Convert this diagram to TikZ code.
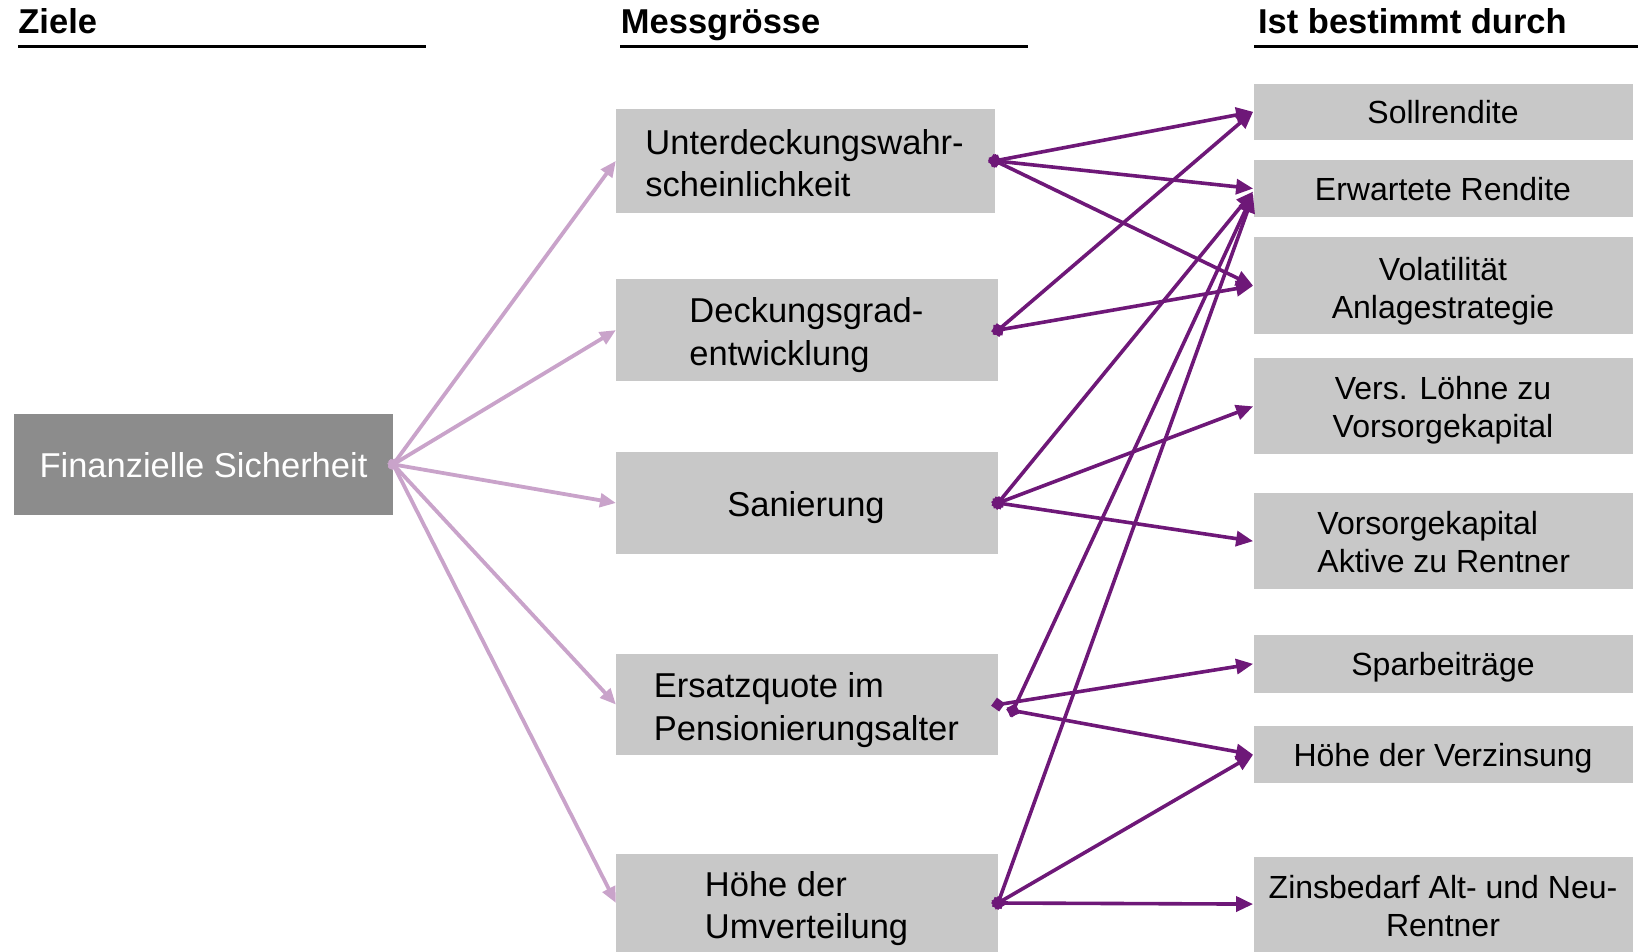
\documentclass[tikz,border=0pt]{standalone}
\usepackage{fontspec}
\setmainfont{Liberation Sans}
\usetikzlibrary{arrows.meta,calc}
\begin{document}
\definecolor{boxgray}{RGB}{200,200,200}
\definecolor{darkbox}{RGB}{140,140,140}
\definecolor{lpurp}{RGB}{201,163,202}
\definecolor{dpurp}{RGB}{110,24,120}
\tikzset{
  box/.style={fill=boxgray, draw=none, inner sep=0pt, minimum width=#1},
  box/.default=189.55pt,
  txt/.style={font=\fontsize{17.25}{21.3}\selectfont, inner sep=0pt, text=black},
  rtxt/.style={font=\fontsize{16}{19}\selectfont, inner sep=0pt, text=black, align=center},
  hdr/.style={font=\fontsize{17.25}{21}\selectfont\bfseries, inner sep=0pt, anchor=base west},
  hline/.style={line width=1.5pt, black},
  lt/.style={draw=lpurp, line width=1.9pt, {Diamond[length=6pt,width=6pt]}-{Triangle[length=8pt,width=6.8pt]}, shorten <=-3pt},
  dk/.style={draw=dpurp, line width=1.8pt, {Diamond[length=7pt,width=7pt]}-{Triangle[length=8.5pt,width=7.5pt]}, shorten <=-3.5pt}
}
\newcommand{\sx}{\strut}
\begin{tikzpicture}[x=0.5pt,y=-0.5pt]
\useasboundingbox (0,0) rectangle (1638,952);
% headers
\node[hdr] (h1) at (18,34) {Ziele};
\node[hdr] (h2) at (620.5,34) {Messgrösse};
\node[hdr] (h3) at (1257.7,34) {Ist bestimmt durch};
\coordinate (l1a) at (18,47); \coordinate (l1b) at (426,47);
\coordinate (l2a) at (620,47); \coordinate (l2b) at (1028,47);
\coordinate (l3a) at (1254,47); \coordinate (l3b) at (1638,47);
\draw[hline] (l1a) -- (l1b);
\draw[hline] (l2a) -- (l2b);
\draw[hline] (l3a) -- (l3b);
% left box
\node[box=189.6pt, fill=darkbox, minimum height=50.65pt] (fs) at (203.2,464.4) {};
\node[txt, text=white] (fst) at (203.5,468.6) {\sx Finanzielle Sicherheit};
% middle boxes
\node[box=189.1pt, minimum height=52.25pt] (u) at (805.4,160.85) {};
\node[box=190.65pt, minimum height=51.2pt] (d) at (807,330.1) {};
\node[box=190.65pt, minimum height=50.65pt] (s) at (807,503) {};
\node[box=190.65pt, minimum height=50.65pt] (e) at (807,704.6) {};
\node[box=190.65pt, minimum height=48.55pt] (h) at (807,903) {};
\node[txt, align=left, anchor=west] (ut) at (645,167) {\sx Unterdeckungswahr-\\\sx scheinlichkeit};
\node[txt, align=left, anchor=west] (dt) at (689,335.5) {\sx Deckungsgrad-\\\sx entwicklung};
\node[txt] (st) at (806,507.5) {\sx Sanierung};
\node[txt, align=left, anchor=west] (et) at (653.5,710.5) {\sx Ersatzquote im\\\sx Pensionierungsalter};
\node[txt, align=left, anchor=west] (ht) at (704.5,909) {\sx Höhe der\\\sx Umverteilung};
% right boxes
\node[box, minimum height=28.2pt] (soll) at (1443.05,111.8) {};
\node[box, minimum height=28.75pt] (erw) at (1443.05,188.55) {};
\node[box, minimum height=48.6pt] (vol) at (1443.05,285.7) {};
\node[box, minimum height=48.05pt] (vers) at (1443.05,406.35) {};
\node[box, minimum height=48.05pt] (vors) at (1443.05,541.15) {};
\node[box, minimum height=28.75pt] (spar) at (1443.05,663.85) {};
\node[box, minimum height=28.7pt] (hv) at (1443.05,754.7) {};
\node[box, minimum height=47.5pt] (zins) at (1443.05,904.1) {};
\node[rtxt] (sollt) at (1443,116) {\sx Sollrendite};
\node[rtxt] (erwt) at (1443,193) {\sx Erwartete Rendite};
\node[rtxt] (volt) at (1443,291.5) {\sx Volatilität\\\sx Anlagestrategie};
\node[rtxt] (verst) at (1443,411) {\sx Vers. Löhne zu\\\sx Vorsorgekapital};
\node[rtxt, align=left, anchor=west] (vorst) at (1317,545.5) {\sx Vorsorgekapital\\\sx Aktive zu Rentner};
\node[rtxt] (spart) at (1443,668) {\sx Sparbeiträge};
\node[rtxt] (hvt) at (1443,759) {\sx Höhe der Verzinsung};
\node[rtxt] (zinst) at (1443,909.5) {\sx Zinsbedarf Alt- und Neu-\\\sx Rentner};
% light connectors
\draw[lt] (fs.east) -- (u.west);
\draw[lt] (fs.east) -- (d.west);
\draw[lt] (fs.east) -- (s.west);
\draw[lt] (fs.east) -- (e.west);
\draw[lt] (fs.east) -- (h.west);
% dark connectors
\coordinate (e2) at ($(e.east)+(15,6)$);
\coordinate (erw1) at ($(erw.west)+(0,3)$);
\coordinate (erw2) at ($(erw.west)+(0,5)$);
\coordinate (erw3) at ($(erw.west)+(0,7)$);
\draw[dk] (u.east) -- (soll.west);
\draw[dk] (u.east) -- (erw.west);
\draw[dk] (u.east) -- (vol.west);
\draw[dk] (d.east) -- (soll.west);
\draw[dk] (d.east) -- (vol.west);
\draw[dk] (s.east) -- (erw1);
\draw[dk] (s.east) -- (vers.west);
\draw[dk] (s.east) -- (vors.west);
\draw[dk] (e.east) -- (spar.west);
\draw[dk] (e2) -- (erw2);
\draw[dk] (e2) -- (hv.west);
\draw[dk] (h.east) -- (erw3);
\draw[dk] (h.east) -- (hv.west);
\draw[dk] (h.east) -- (zins.west);
\end{tikzpicture}
\end{document}
